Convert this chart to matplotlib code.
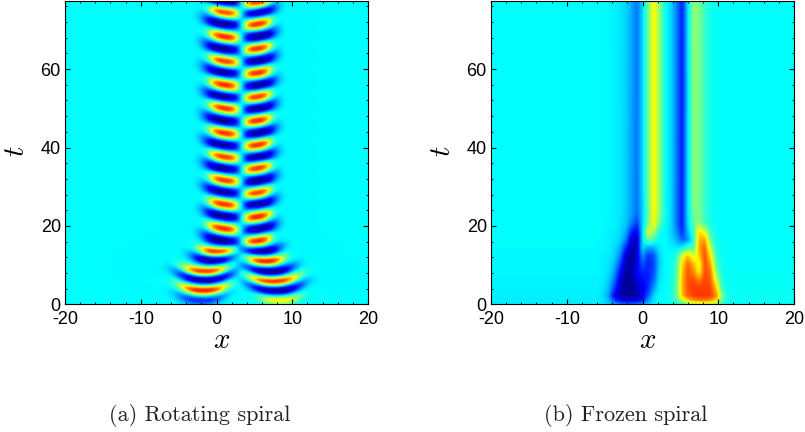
import numpy as np
import matplotlib
matplotlib.use("Agg")
import matplotlib.pyplot as plt
from matplotlib.colors import LinearSegmentedColormap
from matplotlib.ticker import MultipleLocator

# ---- panel (a): every band ----
lr_t  = [80.6,74.5,68.2,61.9,55.9,50.0,43.6,37.5,31.5,25.4,19.2,13.3,8.2,3.4]
lr_x  = [1.1,1.1,1.1,1.1,1.1,1.1,1.1,1.1,1.1,1.0,0.9,0.1,-1.5,-1.7]
lr_a  = [1.0,1.0,1.0,1.0,1.0,1.0,1.0,1.0,1.0,1.0,1.0,1.0,1.0,1.0]
lr_sx = [1.65,1.65,1.65,1.65,1.65,1.65,1.65,1.65,1.65,1.65,1.65,1.9,2.3,2.5]
lb_t  = [77.2,71.6,65.2,59.3,52.9,46.8,40.6,34.7,28.7,22.5,16.3,11.2,6.2,1.0]
lb_x  = [0.8,0.8,0.8,0.8,0.8,0.8,0.8,0.8,0.8,0.8,0.6,-0.5,-1.5,-2.0]
lb_a  = [-.75,-.75,-.75,-.75,-.75,-.75,-.75,-.75,-.75,-.75,-.75,-.75,-.75,-.42]
lb_sx = [2.0,2.0,2.0,2.0,2.0,2.0,2.0,2.0,2.0,2.0,2.0,2.2,3.0,2.6]
rb_t  = [80.6,74.5,68.3,62.2,55.9,50.0,43.7,37.5,31.5,25.7,19.2,13.5,8.2,3.4]
rb_x  = [5.6,5.6,5.6,5.6,5.6,5.6,5.6,5.6,5.6,5.6,5.7,5.9,7.1,7.8]
rb_a  = [-.75,-.75,-.75,-.75,-.75,-.75,-.75,-.75,-.75,-.75,-.75,-.75,-.75,-.75]
rb_sx = [1.85,1.85,1.85,1.85,1.85,1.85,1.85,1.85,1.85,1.85,1.85,2.1,2.5,2.9]
rr_t  = [76.9,71.5,65.2,59.0,52.9,46.8,40.6,34.7,28.3,22.2,16.1,10.9,5.7,1.0]
rr_x  = [5.4,5.4,5.4,5.4,5.4,5.4,5.4,5.4,5.4,5.4,5.4,6.5,7.5,8.3]
rr_a  = [1.0,1.0,1.0,1.0,1.0,1.0,1.0,1.0,1.0,1.0,1.0,1.0,1.0,.52]
rr_sx = [1.5,1.5,1.5,1.5,1.5,1.5,1.5,1.5,1.5,1.5,1.5,1.9,2.6,2.2]

# ---- panel (b): field values on a coarse grid ----
b_x = [-6,-5.25,-4.5,-3.75,-3,-2.25,-1.5,-.75,0,.75,1.5,2.25,3,3.75,4.5,5.25,6,6.75,7.5,8.25,9,9.75,10.5,11.25,12]
b_t = [0,1,2.1,4.1,6.2,8.2,10.3,12.3,14.4,16.4,18.5,20.5,22.6,24.6,28.7,78]
b_z = [
 [-.02,-.04,-.08,-.18,-.26,-.30,-.30,-.28,-.22,-.10,-.03,0,0,.02,.05,.12,.24,.32,.38,.38,.34,.26,.12,.03,.02],
 [-.03,-.05,-.14,-.38,-.54,-.58,-.58,-.56,-.46,-.22,-.05,0,0,.04,.14,.40,.62,.74,.78,.78,.74,.60,.20,.03,.02],
 [-.03,-.06,-.18,-.50,-.66,-.70,-.70,-.66,-.54,-.32,-.07,0,0,.04,.20,.62,.82,.88,.90,.90,.88,.74,.26,.03,.02],
 [-.02,-.04,-.12,-.36,-.62,-.70,-.70,-.62,-.54,-.42,-.20,-.02,0,.03,.18,.64,.84,.88,.88,.88,.86,.62,.12,.02,.01],
 [-.02,-.03,-.08,-.26,-.56,-.70,-.70,-.56,-.48,-.44,-.30,-.04,0,.03,.16,.64,.84,.84,.74,.86,.82,.42,.06,.02,.01],
 [-.01,-.02,-.06,-.18,-.46,-.68,-.70,-.50,-.42,-.44,-.34,-.07,0,.02,.14,.60,.84,.74,.50,.86,.78,.26,.04,.01,.01],
 [-.01,-.02,-.04,-.12,-.34,-.64,-.70,-.54,-.32,-.44,-.36,-.09,0,.02,.12,.56,.80,.62,.46,.86,.68,.16,.03,.01,0],
 [-.01,-.02,-.03,-.08,-.22,-.56,-.70,-.58,-.20,-.40,-.34,-.07,0,.02,.08,.42,.62,.40,.60,.86,.54,.10,.02,.01,0],
 [0,-.01,-.02,-.06,-.14,-.40,-.66,-.62,-.07,-.16,-.14,-.03,0,-.02,-.04,-.02,.12,.14,.68,.82,.36,.05,.01,0,0],
 [0,-.01,-.02,-.04,-.08,-.22,-.56,-.64,-.05,.24,.10,0,0,-.05,-.14,-.30,-.22,.08,.64,.70,.20,.03,.01,0,0],
 [0,-.01,-.02,-.03,-.06,-.14,-.40,-.56,-.05,.40,.36,.04,0,-.07,-.22,-.42,-.12,.12,.58,.42,.10,.02,0,0,0],
 [0,0,-.01,-.02,-.05,-.10,-.24,-.40,-.08,.24,.50,.20,0,-.07,-.26,-.46,-.07,.18,.28,.14,.04,.01,0,0,0],
 [0,0,-.01,-.02,-.04,-.09,-.18,-.30,-.10,.20,.52,.26,.02,-.07,-.26,-.46,-.05,.22,.24,.10,.03,.01,0,0,0],
 [0,0,-.01,-.02,-.04,-.09,-.17,-.28,-.10,.20,.52,.28,.02,-.07,-.26,-.46,-.05,.24,.24,.10,.03,.01,0,0,0],
 [0,0,-.01,-.02,-.04,-.09,-.17,-.27,-.08,.22,.52,.28,.02,-.07,-.26,-.46,-.05,.26,.24,.10,.03,.01,0,0,0],
 [0,0,-.01,-.02,-.04,-.08,-.15,-.27,-.08,.22,.52,.28,.02,-.07,-.24,-.46,-.05,.28,.24,.10,.03,.01,0,0,0],
]

x_ticks = [-20,-10,0,10,20]
t_ticks = [0,20,40,60]
captions = ["(a) Rotating spiral", "(b) Frozen spiral"]

T_MAX = 77.3
xs = np.arange(-20, 20.01, 0.1)
ts = np.arange(0, T_MAX + 0.01, 0.1)
XX, TT = np.meshgrid(xs, ts)

def bands(z, tt, xx, aa, ss, st, side):
    for t0, x0, a, sx in zip(tt, xx, aa, ss):
        dx = XX - x0
        low = t0 < 14
        c = 0.12 if low else 0.08
        s = 0.0 if low else side * 0.30
        w = 0.8 * st if low else st
        lim = 1.7 * sx
        dc = np.clip(dx, -lim, lim)
        dt = TT - t0 - c * dc**2 - s * dc
        z += a * np.exp(-0.5 * np.abs(dx / sx)**3 - 0.5 * (dt / w)**2)

za = np.zeros_like(XX)
bands(za, lr_t, lr_x, lr_a, lr_sx, 1.15, -1)
bands(za, lb_t, lb_x, lb_a, lb_sx, 1.3, -1)
bands(za, rb_t, rb_x, rb_a, rb_sx, 1.3, 1)
bands(za, rr_t, rr_x, rr_a, rr_sx, 1.15, 1)

# panel (b): resample the read grid for display
Z = np.array(b_z, float)
tmp = np.array([np.interp(xs, b_x, row) for row in Z])
zb = np.array([np.interp(ts, b_t, col) for col in tmp.T]).T
kx = np.hanning(7); kx /= kx.sum()
kt = np.hanning(9); kt /= kt.sum()
zb = np.array([np.convolve(np.pad(r, 3, mode="edge"), kx, "valid") for r in zb])
zb = np.array([np.convolve(np.pad(c, 4, mode="edge"), kt, "valid") for c in zb.T]).T

# MATLAB-style jet, whose cyan is pure at 0.375
jet_m = LinearSegmentedColormap.from_list("jet_m", [
    (0.0, (0, 0, .5)), (.125, (0, 0, 1)), (.375, (0, 1, 1)),
    (.625, (1, 1, 0)), (.875, (1, 0, 0)), (1.0, (.5, 0, 0))], N=256)

plt.rcParams["font.family"] = ["Liberation Sans", "DejaVu Sans"]
plt.rcParams["mathtext.fontset"] = "cm"
plt.rcParams["axes.unicode_minus"] = False
fig = plt.figure(figsize=(8.05, 4.32), dpi=100)
W, H = 805.0, 432.0
rects = [(65, 368), (491, 794)]
top, bottom = 1.3, 304.3

for (x0, x1), z, cap in zip(rects, [za, zb], captions):
    ax = fig.add_axes([x0 / W, 1 - bottom / H, (x1 - x0) / W, (bottom - top) / H])
    ax.imshow(z, origin="lower", extent=[-20, 20, 0, T_MAX], aspect="auto",
              cmap=jet_m, vmin=-0.75, vmax=1.25, interpolation="bilinear")
    ax.set_xlim(-20, 20); ax.set_ylim(0, T_MAX)
    ax.set_xticks(x_ticks); ax.set_yticks(t_ticks)
    ax.xaxis.set_minor_locator(MultipleLocator(2))
    ax.yaxis.set_minor_locator(MultipleLocator(4))
    ax.tick_params(which="major", direction="in", length=3.4, width=0.8, top=True, right=True,
                   labelsize=13, pad=3)
    ax.tick_params(axis="x", which="major", pad=5)
    ax.tick_params(which="minor", direction="in", length=1.6, width=0.6, top=True, right=True)
    for sp in ax.spines.values():
        sp.set_linewidth(0.8)
    fig.text((x0 + 157) / W, 1 - 340 / H, "$x$", fontsize=21, ha="center", va="center")
    fig.text((x0 - 49) / W, 1 - 151 / H, "$t$", fontsize=21, rotation=90, ha="center", va="center")
    fig.text((x0 + 134.5) / W, 1 - 421 / H, cap, family="cmr10", fontsize=16,
             ha="center", va="baseline", color="#222222")

fig.savefig("out.png", dpi=100)
